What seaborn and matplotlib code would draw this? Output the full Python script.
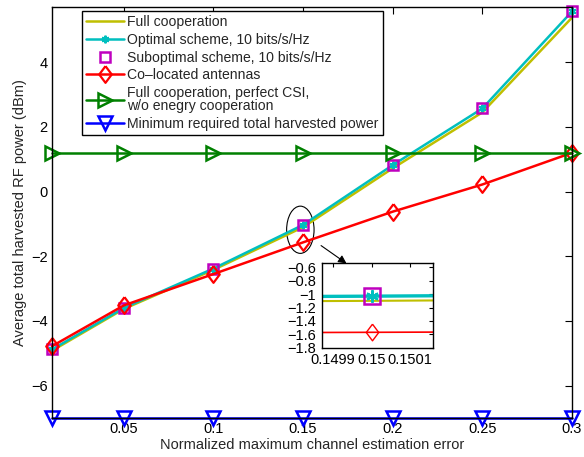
import numpy as np
import pandas as pd
import seaborn as sns
import matplotlib
matplotlib.use("Agg")
import matplotlib.pyplot as plt
from matplotlib.patches import Ellipse

# ---------------- data ----------------
x_err = [0.01, 0.05, 0.10, 0.15, 0.20, 0.25, 0.30]
full_coop = [-4.92, -3.63, -2.42, -1.10, 0.72, 2.45, 5.38]
optimal = [-4.88, -3.60, -2.38, -1.03, 0.82, 2.57, 5.57]
suboptimal = [-4.88, -3.60, -2.38, -1.03, 0.82, 2.57, 5.57]
colocated = [-4.78, -3.52, -2.55, -1.57, -0.62, 0.22, 1.20]
no_energy_coop = [1.2, 1.2, 1.2, 1.2, 1.2, 1.2, 1.2]
min_required = [-7.0, -7.0, -7.0, -7.0, -7.0, -7.0, -7.0]

labels = ["Full cooperation",
          "Optimal scheme, 10 bits/s/Hz",
          "Suboptimal scheme, 10 bits/s/Hz",
          "Co\u2013located antennas",
          "Full cooperation, perfect CSI,\nw/o enegry cooperation",
          "Minimum required total harvested power"]

x_ticks = [0.05, 0.1, 0.15, 0.2, 0.25, 0.3]
x_ticklabels = ["0.05", "0.1", "0.15", "0.2", "0.25", "0.3"]
y_ticks = [-6, -4, -2, 0, 2, 4]
y_ticklabels = ["\u22126", "\u22124", "\u22122", "0", "2", "4"]
in_x_ticks = [0.1499, 0.15, 0.1501]
in_x_ticklabels = ["0.1499", "0.15", "0.1501"]
in_y_ticks = [-1.8, -1.6, -1.4, -1.2, -1.0, -0.8, -0.6]
in_y_ticklabels = ["\u22121.8", "\u22121.6", "\u22121.4", "\u22121.2", "\u22121", "\u22120.8", "\u22120.6"]

df = pd.DataFrame({"x": x_err, "full": full_coop, "opt": optimal, "sub": suboptimal,
                   "col": colocated, "nec": no_energy_coop, "minr": min_required})

sns.set_theme(style="white")
plt.rcParams["font.family"] = ["Liberation Sans", "DejaVu Sans"]
plt.rcParams["mathtext.default"] = "regular"

C_Y = "#BFBF00"
C_C = "#00BFBF"
C_M = "#BF00BF"
C_R = "#FF0000"
C_G = "#008000"
C_B = "#0000FF"

diamond = [(0, 1), (0.75, 0), (0, -1), (-0.75, 0), (0, 1)]

fig = plt.figure(figsize=(5.84, 4.57), dpi=100)
ax = fig.add_axes([52 / 584, 1 - 418 / 457, 520 / 584, (418 - 6.6) / 457])


def draw(a, big=False):
    lw = 1.8
    ms_sq = 11 if big else 7.5
    sns.lineplot(data=df, x="x", y="full", ax=a, color=C_Y, lw=(1.5 if big else lw),
                 label=labels[0], clip_on=False)
    sns.lineplot(data=df, x="x", y="opt", ax=a, color=C_C, lw=lw + (0.6 if big else 0),
                 marker=(6, 2, 0), markersize=(9 if big else 5.5), markeredgecolor=C_C,
                 markeredgewidth=1.5, label=labels[1], clip_on=False)
    sns.lineplot(data=df, x="x", y="sub", ax=a, color=C_M, lw=0, marker="s",
                 markersize=ms_sq, markerfacecolor="none", markeredgecolor=C_M,
                 markeredgewidth=1.8, label=labels[2], clip_on=False)
    sns.lineplot(data=df, x="x", y="col", ax=a, color=C_R, lw=(1.2 if big else lw),
                 marker=diamond, markersize=12, markerfacecolor="none", markeredgecolor=C_R,
                 markeredgewidth=1.6 if not big else 1.0, label=labels[3], clip_on=False)
    sns.lineplot(data=df, x="x", y="nec", ax=a, color=C_G, lw=lw, marker=">",
                 markersize=10, markerfacecolor="none", markeredgecolor=C_G,
                 markeredgewidth=1.8, label=labels[4], clip_on=False)
    sns.lineplot(data=df, x="x", y="minr", ax=a, color=C_B, lw=lw, marker="v",
                 markersize=10, markerfacecolor="none", markeredgecolor=C_B,
                 markeredgewidth=1.8, label=labels[5], clip_on=False)


draw(ax)
ax.set_xlim(0.01, 0.30)
ax.set_ylim(-7, 5.72)
ax.set_xticks(x_ticks)
ax.set_xticklabels(x_ticklabels)
ax.set_yticks(y_ticks)
ax.set_yticklabels(y_ticklabels)
ax.tick_params(direction="in", length=5, width=0.8, top=True, right=True,
               labelsize=10.5, colors="black", pad=3)
for s in ax.spines.values():
    s.set_color("black")
    s.set_linewidth(1.0)
ax.set_xlabel("Normalized maximum channel estimation error", fontsize=10.5, labelpad=1)
ax.set_ylabel("Average total harvested RF power (dBm)", fontsize=10.5, labelpad=3)

leg = ax.legend(loc="upper left", bbox_to_anchor=(0.058, 0.989), borderaxespad=0,
                fontsize=10.1, frameon=True, fancybox=False, edgecolor="black",
                framealpha=1, handlelength=2.7, handletextpad=0.2, labelspacing=0.26,
                borderpad=0.3)
leg.get_frame().set_linewidth(1.0)
for t in leg.get_texts():
    t.set_linespacing(0.95)

# ellipse + arrow
ell = Ellipse((0.1485, -1.18), width=0.0153, height=1.46, fill=False, edgecolor="black", lw=0.8)
ax.add_patch(ell)
ax.annotate("", xy=(0.1755, -2.27), xytext=(0.1588, -1.62),
            arrowprops=dict(arrowstyle="-|>", color="black", lw=0.8, mutation_scale=12))

# inset
ins = fig.add_axes([321.7 / 584, 1 - 347.7 / 457, 111.3 / 584, 85 / 457])
draw(ins, big=True)
if ins.get_legend() is not None:
    ins.get_legend().remove()
for ln in ins.get_lines():
    ln.set_clip_on(True)
ins.set_xlim(0.14987, 0.15016)
ins.set_ylim(-1.8, -0.53)
ins.set_xticks(in_x_ticks)
ins.set_xticklabels(in_x_ticklabels)
ins.set_yticks(in_y_ticks)
ins.set_yticklabels(in_y_ticklabels)
ins.set_xlabel("")
ins.set_ylabel("")
ins.tick_params(direction="in", length=3, width=0.8, top=True, right=True,
                labelsize=10.5, colors="black", pad=4)
for s in ins.spines.values():
    s.set_color("black")
    s.set_linewidth(1.0)

fig.savefig("out.png", dpi=100)
